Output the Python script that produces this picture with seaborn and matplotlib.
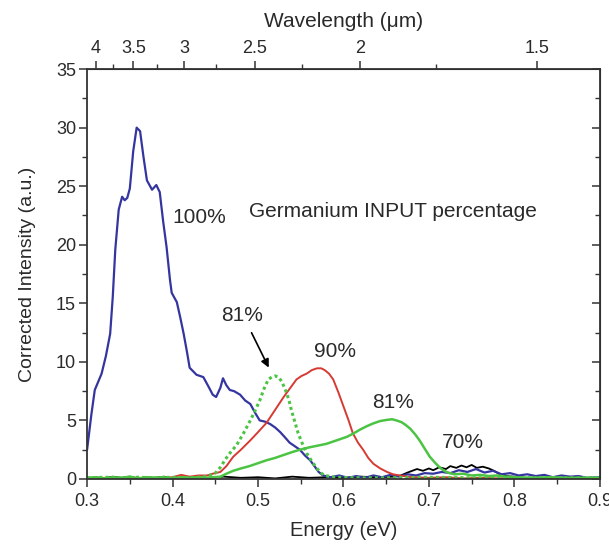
import numpy as np
import pandas as pd
import matplotlib
matplotlib.use("Agg")
import matplotlib.pyplot as plt
import seaborn as sns

# --- data (energy in eV, corrected intensity in a.u.) ---
e_100 = [0.300, 0.305, 0.309, 0.317, 0.322, 0.327, 0.330, 0.333, 0.337, 0.341, 0.344, 0.347,
         0.350, 0.354, 0.358, 0.362, 0.366, 0.370, 0.376, 0.381, 0.385, 0.389, 0.393, 0.397,
         0.399, 0.405, 0.409, 0.413, 0.417, 0.420, 0.428, 0.436, 0.442, 0.447, 0.451, 0.456,
         0.459, 0.463, 0.467, 0.472, 0.479, 0.485, 0.491, 0.497, 0.502, 0.508, 0.514, 0.520,
         0.526, 0.531, 0.537, 0.543, 0.549, 0.555, 0.561, 0.566, 0.571, 0.576, 0.585, 0.595,
         0.605, 0.615, 0.625, 0.635, 0.645, 0.655, 0.665, 0.675, 0.685, 0.695, 0.705, 0.715,
         0.725, 0.735, 0.745, 0.755, 0.765, 0.775, 0.785, 0.795, 0.805, 0.815, 0.825, 0.835,
         0.845, 0.855, 0.865, 0.875, 0.885, 0.900]
i_100 = [2.5, 5.5, 7.6, 9.0, 10.5, 12.4, 15.5, 19.6, 23.0, 24.1, 23.8, 24.0,
         24.8, 28.0, 30.0, 29.7, 27.5, 25.5, 24.7, 25.1, 24.5, 22.0, 19.8, 17.0,
         15.9, 15.1, 13.8, 12.4, 10.8, 9.5, 8.9, 8.7, 7.9, 7.2, 7.0, 7.8,
         8.6, 8.0, 7.6, 7.5, 7.2, 6.7, 6.4, 5.6, 5.0, 4.9, 4.7, 4.4,
         4.0, 3.6, 3.1, 2.8, 2.5, 2.0, 1.6, 1.1, 0.6, 0.3, 0.15, 0.3,
         0.1, 0.25, 0.1, 0.3, 0.15, 0.35, 0.2, 0.4, 0.3, 0.5, 0.45, 0.6,
         0.5, 0.75, 0.6, 0.85, 0.55, 0.7, 0.4, 0.5, 0.3, 0.4, 0.25, 0.35,
         0.15, 0.3, 0.2, 0.25, 0.1, 0.15]

e_90 = [0.300, 0.320, 0.340, 0.360, 0.380, 0.400, 0.410, 0.420, 0.430, 0.440, 0.447, 0.456,
        0.463, 0.471, 0.480, 0.491, 0.500, 0.510, 0.520, 0.530, 0.538, 0.545, 0.551, 0.557,
        0.563, 0.569, 0.574, 0.578, 0.583, 0.588, 0.594, 0.600, 0.606, 0.611, 0.617, 0.623,
        0.629, 0.635, 0.643, 0.651, 0.658, 0.666, 0.680, 0.700, 0.720, 0.740, 0.760, 0.780,
        0.800, 0.820, 0.850, 0.880, 0.900]
i_90 = [0.05, 0.1, 0.05, 0.1, 0.05, 0.15, 0.35, 0.2, 0.3, 0.3, 0.45, 0.6,
        1.1, 1.9, 2.5, 3.3, 4.0, 4.8, 5.9, 7.0, 7.8, 8.5, 8.8, 9.0,
        9.3, 9.45, 9.45, 9.3, 9.0, 8.5, 7.4, 6.2, 5.0, 3.9, 3.1, 2.5,
        1.8, 1.3, 0.9, 0.6, 0.4, 0.3, 0.15, 0.1, 0.15, 0.05, 0.1, 0.05,
        0.1, 0.05, 0.1, 0.05, 0.05]

e_81a = [0.300, 0.320, 0.340, 0.360, 0.380, 0.400, 0.420, 0.440, 0.450, 0.456, 0.462, 0.467,
         0.475, 0.483, 0.491, 0.497, 0.502, 0.507, 0.512, 0.516, 0.520, 0.524, 0.528, 0.532,
         0.536, 0.539, 0.543, 0.547, 0.552, 0.557, 0.563, 0.569, 0.574, 0.578, 0.590, 0.620,
         0.650, 0.700, 0.750, 0.800, 0.850, 0.900]
i_81a = [0.1, 0.15, 0.1, 0.15, 0.1, 0.15, 0.1, 0.2, 0.5, 1.0, 1.7, 2.2,
         2.9, 3.9, 5.0, 5.9, 6.7, 7.7, 8.5, 8.7, 8.8, 8.7, 8.3, 7.6,
         6.8, 5.9, 4.9, 3.9, 3.0, 2.2, 1.5, 0.9, 0.5, 0.3, 0.15, 0.1,
         0.1, 0.15, 0.1, 0.1, 0.1, 0.1]

e_81b = [0.300, 0.310, 0.320, 0.330, 0.340, 0.350, 0.360, 0.370, 0.380, 0.390, 0.400, 0.410,
         0.420, 0.430, 0.440, 0.456, 0.463, 0.471, 0.480, 0.490, 0.500, 0.510, 0.520, 0.530,
         0.540, 0.549, 0.560, 0.570, 0.580, 0.592, 0.604, 0.612, 0.619, 0.627, 0.635, 0.643,
         0.651, 0.657, 0.662, 0.668, 0.673, 0.678, 0.684, 0.689, 0.695, 0.701, 0.707, 0.713,
         0.718, 0.722, 0.730, 0.740, 0.750, 0.760, 0.770, 0.780, 0.790, 0.800, 0.820, 0.840,
         0.860, 0.880, 0.900]
i_81b = [0.1, 0.15, 0.05, 0.15, 0.1, 0.2, 0.05, 0.15, 0.1, 0.15, 0.05, 0.15,
         0.1, 0.15, 0.1, 0.2, 0.45, 0.7, 0.9, 1.1, 1.35, 1.6, 1.8, 2.05,
         2.3, 2.5, 2.7, 2.85, 3.0, 3.3, 3.6, 3.9, 4.2, 4.5, 4.75, 4.95,
         5.05, 5.1, 5.0, 4.85, 4.6, 4.3, 3.8, 3.3, 2.6, 1.9, 1.4, 0.95,
         0.7, 0.55, 0.4, 0.45, 0.3, 0.35, 0.25, 0.3, 0.2, 0.15, 0.1, 0.15,
         0.1, 0.1, 0.1]

e_70 = [0.300, 0.310, 0.320, 0.330, 0.340, 0.350, 0.360, 0.370, 0.380, 0.390, 0.400, 0.420,
        0.440, 0.460, 0.480, 0.500, 0.520, 0.540, 0.560, 0.580, 0.600, 0.620, 0.640, 0.660,
        0.667, 0.675, 0.686, 0.693, 0.700, 0.705, 0.712, 0.720, 0.725, 0.732, 0.738, 0.744,
        0.750, 0.756, 0.763, 0.770, 0.776, 0.783, 0.790, 0.800, 0.810, 0.830, 0.850, 0.870,
        0.900]
i_70 = [0.05, 0.15, 0.05, 0.2, 0.1, 0.2, 0.05, 0.15, 0.1, 0.2, 0.05, 0.15,
        0.1, 0.2, 0.1, 0.15, 0.05, 0.2, 0.1, 0.15, 0.1, 0.2, 0.15, 0.2,
        0.3, 0.55, 0.85, 0.7, 0.9, 0.75, 1.0, 0.85, 1.1, 0.95, 1.15, 1.0,
        1.2, 0.95, 1.05, 0.9, 0.7, 0.4, 0.25, 0.2, 0.1, 0.1, 0.05, 0.1,
        0.05]

# text annotations (label, energy, intensity)
labels = ["100%", "81%", "90%", "81%", "70%"]
label_e = [0.431, 0.481, 0.590, 0.658, 0.740]
label_i = [22.3, 14.0, 10.9, 6.5, 3.1]

sns.set_style("ticks")
plt.rcParams['font.family'] = ['Liberation Sans', 'DejaVu Sans']

fig = plt.figure(figsize=(6.09, 5.44), dpi=100)
ax = fig.add_axes([0.143, 0.1195, 0.842, 0.7535])

blue = "#3535a0"
red = "#d63a32"
green = "#4cc443"
ink = "#2a2a2a"

series = [
    (e_70, i_70, "black", "-", 1.3),
    (e_100, i_100, blue, "-", 1.6),
    (e_90, i_90, red, "-", 1.4),
    (e_81b, i_81b, green, "-", 1.8),
    (e_81a, i_81a, green, (0, (1, 1)), 2.2),
]
for e, inten, c, ls, lw in series:
    df = pd.DataFrame({"Energy": e, "Intensity": inten})
    sns.lineplot(data=df, x="Energy", y="Intensity", ax=ax, color=c,
                 linestyle=ls, linewidth=lw, estimator=None, sort=False)

ax.set_xlim(0.3, 0.9)
ax.set_ylim(0, 35)
ax.set_xticks([0.3, 0.4, 0.5, 0.6, 0.7, 0.8, 0.9])
ax.set_xticklabels(["0.3", "0.4", "0.5", "0.6", "0.7", "0.8", "0.9"])
ax.set_xticks([0.35, 0.45, 0.55, 0.65, 0.75, 0.85], minor=True)
ax.set_yticks([0, 5, 10, 15, 20, 25, 30, 35])
ax.set_yticks(np.arange(2.5, 35, 5), minor=True)
ax.tick_params(axis='both', which='major', length=6, width=1.1, labelsize=13,
               color="#333333", labelcolor=ink)
ax.tick_params(axis='both', which='minor', length=3.5, width=1.0, color="#333333")
ax.tick_params(axis='y', right=False, direction='out', pad=2)
ax.tick_params(axis='x', top=False, direction='out', pad=4)
for sp in ax.spines.values():
    sp.set_linewidth(1.3)
    sp.set_color("#333333")
    sp.set_visible(True)

ax.set_xlabel("Energy (eV)", fontsize=14.5, labelpad=8, color=ink)
ax.set_ylabel("Corrected Intensity (a.u.)", fontsize=14, labelpad=14, color=ink)

# right axis with inward ticks, no labels
ry = ax.secondary_yaxis('right')
ry.set_yticks([0, 5, 10, 15, 20, 25, 30, 35])
ry.set_yticks(np.arange(2.5, 35, 5), minor=True)
ry.tick_params(which='major', direction='in', length=6, width=1.1, labelright=False, color="#333333")
ry.tick_params(which='minor', direction='in', length=3.5, width=1.0, color="#333333")

# top wavelength axis
top = ax.secondary_xaxis('top', functions=(lambda x: 1.2398 / np.maximum(x, 1e-6),
                                           lambda x: 1.2398 / np.maximum(x, 1e-6)))
top.set_xticks([4, 3.5, 3, 2.5, 2, 1.5])
top.set_xticklabels(["4", "3.5", "3", "2.5", "2", "1.5"])
top.set_xticks([3.75, 3.25, 2.75, 2.25, 1.75], minor=True)
top.tick_params(which='major', direction='out', length=6, width=1.1, labelsize=13,
                color="#333333", labelcolor=ink, pad=3)
top.tick_params(which='minor', direction='out', length=3.5, width=1.0, color="#333333")
top.set_xlabel("Wavelength (\u03bcm)", fontsize=15, labelpad=9, color=ink)

for lab, x, y in zip(labels, label_e, label_i):
    ax.text(x, y, lab, fontsize=15, ha='center', va='center', color=ink)
ax.text(0.658, 22.8, "Germanium INPUT percentage", fontsize=15, ha='center',
        va='center', color=ink)
ax.annotate("", xy=(0.514, 9.3), xytext=(0.491, 12.7),
            arrowprops=dict(arrowstyle='-|>', color='black', lw=1.2, mutation_scale=12))

fig.savefig("out.png", dpi=100)
